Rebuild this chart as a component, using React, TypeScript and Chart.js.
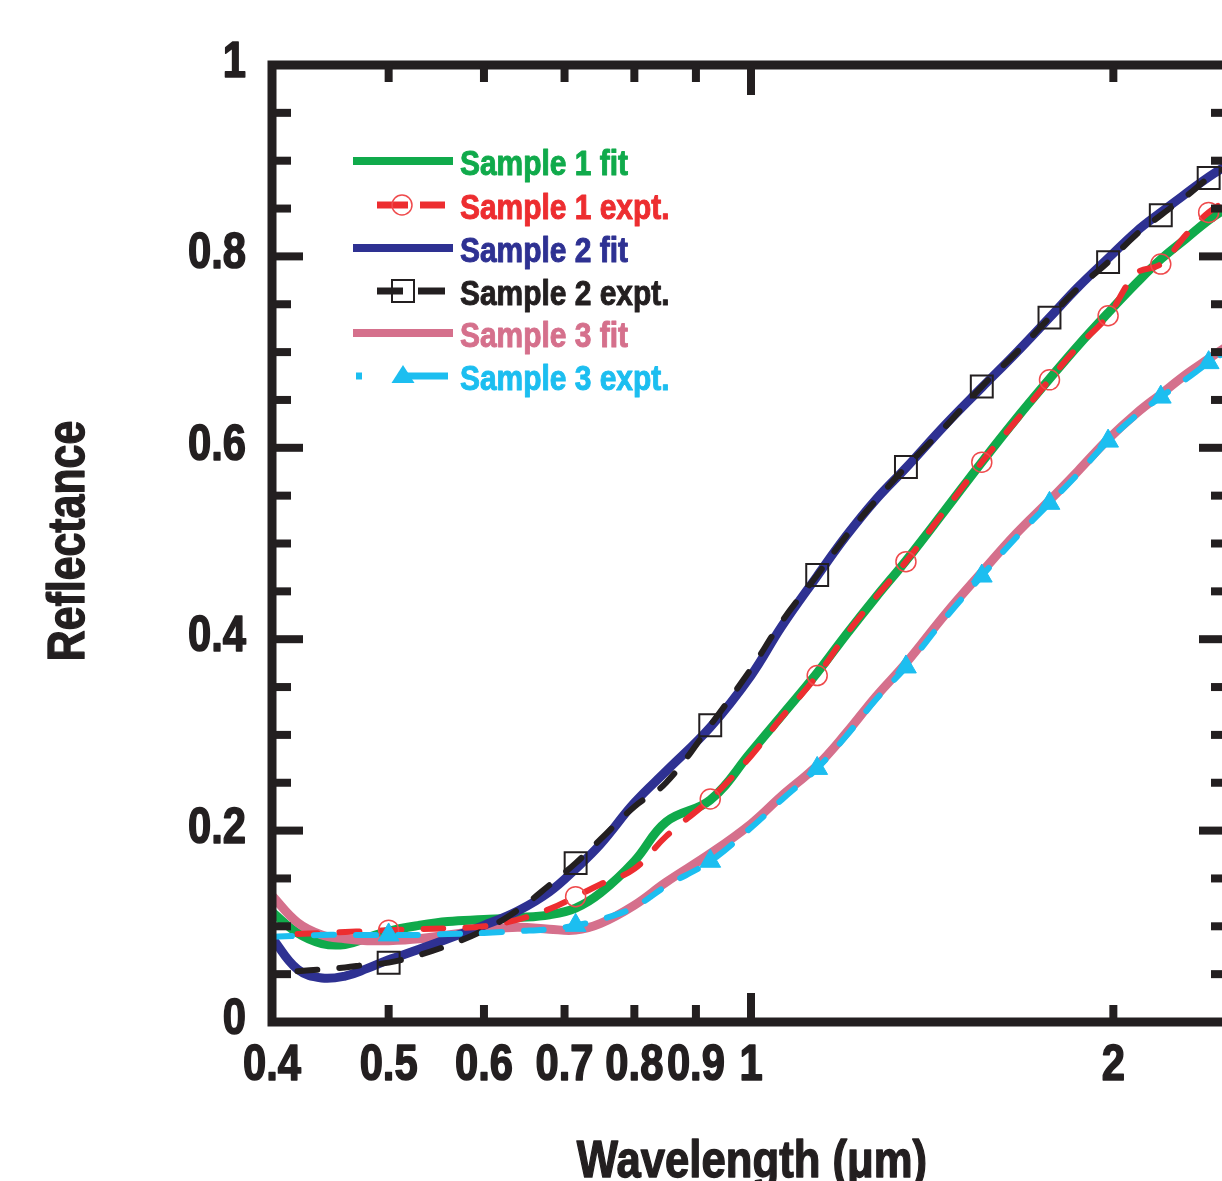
import React, { useEffect, useRef } from "react";
import { Chart, registerables } from "chart.js";

Chart.register(...registerables);

// ---- data ----
const WAVELENGTH = [
  0.4, 0.42, 0.44, 0.46, 0.48, 0.5, 0.53, 0.56, 0.6, 0.64, 0.68, 0.715, 0.75, 0.8, 0.85, 0.925,
  1.0, 1.06, 1.135, 1.2, 1.27, 1.345, 1.45, 1.555, 1.66, 1.77, 1.87, 1.98, 2.09, 2.19, 2.3, 2.4, 2.5,
];

const SAMPLE1_FIT = [
  0.115, 0.093, 0.082, 0.081, 0.088, 0.095, 0.101, 0.105, 0.107, 0.109, 0.112, 0.119, 0.135, 0.168, 0.209, 0.232,
  0.282, 0.32, 0.365, 0.405, 0.444, 0.482, 0.535, 0.585, 0.63, 0.672, 0.707, 0.741, 0.772, 0.797, 0.819, 0.838, 0.853,
];
const SAMPLE1_EXPT = [
  null, 0.092, 0.093, 0.094, 0.095, 0.096, 0.097, 0.098, 0.1, 0.107, 0.118, 0.131, 0.144, 0.16, 0.194, 0.233,
  0.278, 0.318, 0.362, 0.405, 0.444, 0.481, 0.535, 0.585, 0.628, 0.671, 0.706, 0.738, 0.782, 0.792, 0.823, 0.846, 0.86,
];
const SAMPLE2_FIT = [
  0.088, 0.055, 0.046, 0.048, 0.056, 0.065, 0.076, 0.087, 0.101, 0.116, 0.136, 0.16, 0.186, 0.229, 0.262, 0.308,
  0.362, 0.413, 0.466, 0.508, 0.546, 0.579, 0.624, 0.663, 0.699, 0.736, 0.768, 0.798, 0.826, 0.846, 0.866, 0.883, 0.897,
];
const SAMPLE2_EXPT = [
  null, 0.053, 0.055, 0.057, 0.06, 0.062, 0.07, 0.08, 0.096, 0.117, 0.143, 0.166, 0.191, 0.225, 0.25, 0.31,
  0.369, 0.418, 0.467, 0.508, 0.545, 0.58, 0.622, 0.664, 0.699, 0.736, 0.767, 0.794, 0.823, 0.843, 0.863, 0.882, 0.895,
];
const SAMPLE3_FIT = [
  0.132, 0.104, 0.091, 0.087, 0.085, 0.085, 0.087, 0.091, 0.096, 0.099, 0.097, 0.096, 0.103, 0.122, 0.146, 0.176,
  0.207, 0.236, 0.268, 0.302, 0.34, 0.375, 0.426, 0.47, 0.51, 0.545, 0.576, 0.609, 0.636, 0.656, 0.677, 0.693, 0.708,
];
const SAMPLE3_EXPT = [
  0.089, 0.09, 0.091, 0.091, 0.091, 0.091, 0.091, 0.092, 0.093, 0.095, 0.097, 0.101, 0.107, 0.12, 0.142, 0.168,
  0.203, 0.232, 0.265, 0.299, 0.337, 0.371, 0.422, 0.466, 0.506, 0.542, 0.573, 0.607, 0.634, 0.653, 0.672, 0.689, 0.703,
];

const MARKER_WAVELENGTHS = [0.5, 0.715, 0.925, 1.135, 1.345, 1.555, 1.77, 1.98, 2.19, 2.4];

const X_LABEL_TICKS = [0.4, 0.5, 0.6, 0.7, 0.8, 0.9, 1, 2];
const X_LABELS = ["0.4", "0.5", "0.6", "0.7", "0.8", "0.9", "1", "2"];
const X_MINOR_MARKS = [0.5, 0.6, 0.7, 0.8, 0.9, 2];
const X_MAJOR_MARKS = [1];
const Y_LABEL_TICKS = [0, 0.2, 0.4, 0.6, 0.8, 1];
const Y_LABELS = ["0", "0.2", "0.4", "0.6", "0.8", "1"];
const Y_MINOR_MARKS = [0.05, 0.1, 0.15, 0.25, 0.3, 0.35, 0.45, 0.5, 0.55, 0.65, 0.7, 0.75, 0.85, 0.9, 0.95];
const Y_MAJOR_MARKS = [0.2, 0.4, 0.6, 0.8];

const SERIES_NAMES = ["Sample 1 fit", "Sample 1 expt.", "Sample 2 fit", "Sample 2 expt.", "Sample 3 fit", "Sample 3 expt."];

// ---- styles ----
const GREEN = "#10aa4b";
const RED = "#ed2d30";
const BLUE = "#2e3192";
const BLACK = "#231f20";
const PINK = "#d5708c";
const CYAN = "#1cbef0";
const AXIS = "#231f20";
const FONT = '"Liberation Sans", Arial, Helvetica, sans-serif';

function pts(ys: (number | null)[]) {
  return WAVELENGTH.map((x, i) => ({ x, y: ys[i] }));
}

function markerRadius(r: number) {
  return (ctx: any) => {
    const raw = ctx.raw;
    return raw && raw.y != null && MARKER_WAVELENGTHS.includes(raw.x) ? r : 0;
  };
}

function drawText(
  ctx: CanvasRenderingContext2D,
  text: string,
  x: number,
  y: number,
  size: number,
  color: string,
  align: CanvasTextAlign,
  sx: number,
  rotate = 0,
  weight = 1.2
) {
  ctx.save();
  ctx.translate(x, y);
  if (rotate) ctx.rotate(rotate);
  ctx.scale(sx, 1);
  ctx.font = `bold ${size}px ${FONT}`;
  ctx.fillStyle = color;
  ctx.strokeStyle = color;
  ctx.lineWidth = weight;
  ctx.lineJoin = "round";
  ctx.textAlign = align;
  ctx.textBaseline = "alphabetic";
  ctx.fillText(text, 0, 0);
  if (weight > 0) ctx.strokeText(text, 0, 0);
  ctx.restore();
}

const framePlugin = {
  id: "frame",
  afterDatasetsDraw(chart: any) {
    const { ctx, chartArea, scales } = chart;
    const { left, right, top, bottom } = chartArea;
    const xs = scales.x;
    const ys = scales.y;
    ctx.save();
    ctx.strokeStyle = AXIS;
    ctx.lineCap = "butt";
    ctx.lineWidth = 9;
    ctx.strokeRect(left, top, right - left, bottom - top);

    const line = (x1: number, y1: number, x2: number, y2: number) => {
      ctx.beginPath();
      ctx.moveTo(x1, y1);
      ctx.lineTo(x2, y2);
      ctx.stroke();
    };
    ctx.lineWidth = 8;
    Y_MINOR_MARKS.forEach((v) => {
      const p = ys.getPixelForValue(v);
      line(left, p, left + 19, p);
      line(right, p, right - 19, p);
    });
    Y_MAJOR_MARKS.forEach((v) => {
      const p = ys.getPixelForValue(v);
      line(left, p, left + 31, p);
      line(right, p, right - 31, p);
    });
    X_MINOR_MARKS.forEach((v) => {
      const p = xs.getPixelForValue(v);
      line(p, bottom, p, bottom - 17);
      line(p, top, p, top + 17);
    });
    X_MAJOR_MARKS.forEach((v) => {
      const p = xs.getPixelForValue(v);
      line(p, bottom, p, bottom - 29);
      line(p, top, p, top + 30);
    });
    ctx.restore();

    Y_LABEL_TICKS.forEach((v, i) => {
      drawText(ctx, Y_LABELS[i], 246, ys.getPixelForValue(v) + 12, 50, AXIS, "right", 0.835, 0, 1.6);
    });
    X_LABEL_TICKS.forEach((v, i) => {
      drawText(ctx, X_LABELS[i], xs.getPixelForValue(v), 1080, 50, AXIS, "center", 0.835, 0, 1.6);
    });
    drawText(ctx, "Reflectance", 84, 541, 51, AXIS, "center", 0.84, -Math.PI / 2, 1.4);
    drawText(ctx, "Wavelength (\u03bcm)", 752, 1177, 52, AXIS, "center", 0.84, 0, 1.4);

    // legend
    const rows = [161, 205, 248, 291, 333, 376];
    const colors = [GREEN, RED, BLUE, BLACK, PINK, CYAN];
    ctx.save();
    ctx.lineCap = "butt";
    [0, 2, 4].forEach((i) => {
      ctx.strokeStyle = colors[i];
      ctx.lineWidth = 8;
      line(353, rows[i], 453, rows[i]);
    });
    ctx.strokeStyle = RED;
    ctx.lineWidth = 7;
    line(377, rows[1], 408, rows[1]);
    line(420, rows[1], 445, rows[1]);
    ctx.strokeStyle = "#ef4a4c";
    ctx.lineWidth = 1.5;
    ctx.beginPath();
    ctx.arc(402, rows[1], 10, 0, Math.PI * 2);
    ctx.stroke();
    ctx.strokeStyle = BLACK;
    ctx.lineWidth = 7;
    line(377, rows[3], 403, rows[3]);
    line(418, rows[3], 445, rows[3]);
    ctx.lineWidth = 2;
    ctx.strokeRect(392, rows[3] - 11, 22, 22);
    ctx.strokeStyle = CYAN;
    ctx.fillStyle = CYAN;
    ctx.lineWidth = 7;
    line(356, rows[5], 362, rows[5]);
    line(405, rows[5], 448, rows[5]);
    ctx.beginPath();
    ctx.moveTo(403, rows[5] - 11);
    ctx.lineTo(414.5, rows[5] + 7);
    ctx.lineTo(391.5, rows[5] + 7);
    ctx.closePath();
    ctx.fill();
    ctx.restore();
    SERIES_NAMES.forEach((name, i) => {
      drawText(ctx, name, 460, rows[i] + 13.5, 35, colors[i], "left", 0.855, 0, 1.0);
    });
  },
};

export default function App() {
  const canvasRef = useRef<HTMLCanvasElement | null>(null);

  useEffect(() => {
    if (!canvasRef.current) return;
    const fitBase = {
      borderWidth: 9,
      pointRadius: 0,
      fill: false,
      tension: 0.4,
      borderJoinStyle: "round" as const,
      borderCapStyle: "round" as const,
    };
    const exptBase = {
      borderWidth: 6,
      fill: false,
      tension: 0.4,
      borderDash: [20, 22],
      borderCapStyle: "round" as const,
      borderJoinStyle: "round" as const,
      pointHoverRadius: 0,
    };
    const chart = new Chart(canvasRef.current, {
      type: "line",
      data: {
        datasets: [
          { ...fitBase, label: SERIES_NAMES[0], data: pts(SAMPLE1_FIT), borderColor: GREEN, order: 5 },
          { ...fitBase, label: SERIES_NAMES[4], data: pts(SAMPLE3_FIT), borderColor: PINK, order: 4 },
          { ...fitBase, label: SERIES_NAMES[2], data: pts(SAMPLE2_FIT), borderColor: BLUE, order: 3 },
          {
            ...exptBase,
            label: SERIES_NAMES[1],
            data: pts(SAMPLE1_EXPT),
            borderColor: RED,
            pointStyle: "circle",
            pointRadius: markerRadius(10),
            pointBorderWidth: 1.5,
            pointBorderColor: "#ef4a4c",
            pointBackgroundColor: "rgba(0,0,0,0)",
            order: 2,
          },
          {
            ...exptBase,
            label: SERIES_NAMES[3],
            data: pts(SAMPLE2_EXPT),
            borderColor: BLACK,
            pointStyle: "rect",
            pointRadius: markerRadius(15.5),
            pointBorderWidth: 2,
            pointBorderColor: BLACK,
            pointBackgroundColor: "rgba(0,0,0,0)",
            order: 1,
          },
          {
            ...exptBase,
            label: SERIES_NAMES[5],
            data: pts(SAMPLE3_EXPT),
            borderColor: CYAN,
            pointStyle: "triangle",
            pointRadius: markerRadius(12),
            pointBorderWidth: 1,
            pointBorderColor: CYAN,
            pointBackgroundColor: CYAN,
            order: 0,
          },
        ],
      },
      options: {
        animation: false,
        responsive: false,
        events: [],
        layout: { padding: { left: 272, right: 10, top: 65, bottom: 159 } },
        scales: {
          x: { type: "logarithmic", min: 0.4, max: 2.5, display: false },
          y: { type: "linear", min: 0, max: 1, display: false },
        },
        plugins: {
          legend: { display: false },
          tooltip: { enabled: false },
        },
      },
      plugins: [framePlugin],
    });
    return () => chart.destroy();
  }, []);

  return (
    <div
      style={{
        position: "absolute",
        left: 0,
        top: 0,
        width: 1222,
        height: 1181,
        overflow: "hidden",
        background: "#ffffff",
      }}
    >
      <canvas ref={canvasRef} width={1240} height={1181} style={{ display: "block", width: 1240, height: 1181 }} />
    </div>
  );
}
